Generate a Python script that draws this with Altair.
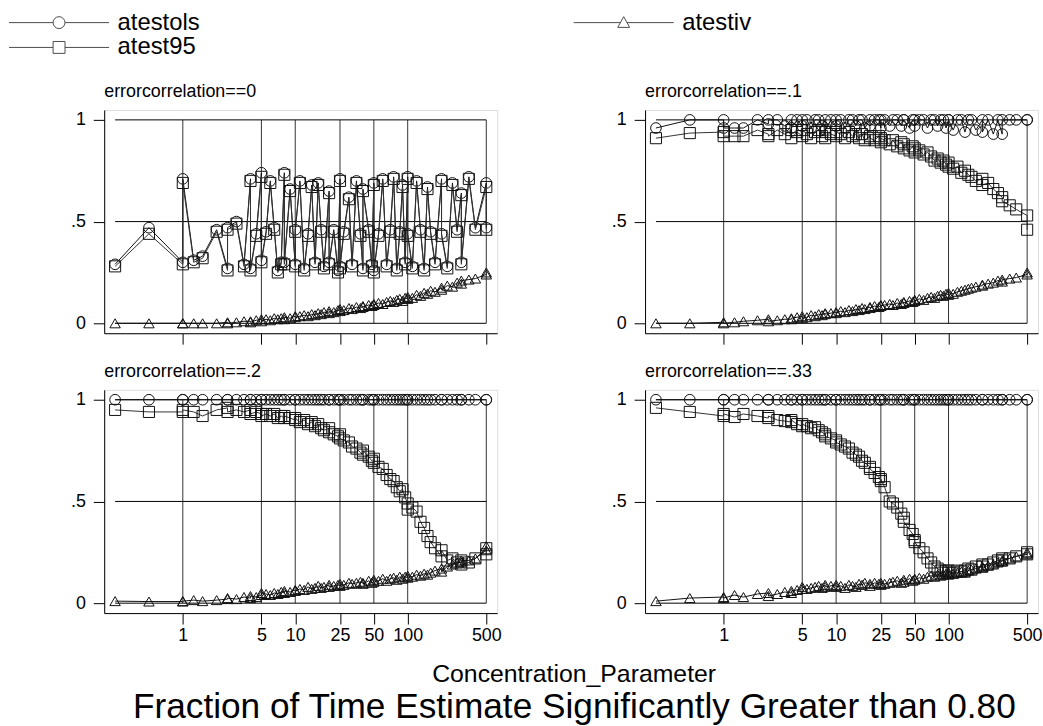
import altair as alt
import pandas as pd

# ---------------- data ----------------
X = [0.25, 0.5, 1, 1, 1.25, 1.5, 2, 2.5, 2.5, 3,
     3.5, 4, 4, 4.5, 5, 5, 5.5, 6, 6.5, 7,
     7.5, 8, 8, 9, 10, 10, 11, 12, 13, 14,
     15, 16, 17, 18, 20, 20, 22, 24, 25, 25,
     27, 30, 32, 35, 38, 40, 40, 45, 48, 50,
     50, 55, 60, 65, 70, 75, 80, 85, 90, 95,
     100, 100, 110, 120, 130, 140, 150, 160, 175, 200,
     200, 225, 250, 275, 300, 300, 350, 400, 500, 500]

PANEL_TITLES = ["errorcorrelation==0", "errorcorrelation==.1",
                "errorcorrelation==.2", "errorcorrelation==.33"]
SERIES = ["atestols", "atest95", "atestiv"]
XTICKS = [1, 5, 10, 25, 50, 100, 500]
YTICKS = [0, 0.5, 1]

# errorcorrelation==0
OLS_0 = [0.29, 0.47, 0.30, 0.71, 0.31, 0.33, 0.46, 0.27, 0.47, 0.50,
         0.29, 0.71, 0.27, 0.44, 0.74, 0.31, 0.45, 0.70, 0.47, 0.26,
         0.30, 0.74, 0.30, 0.66, 0.29, 0.46, 0.70, 0.27, 0.44, 0.68,
         0.30, 0.69, 0.46, 0.28, 0.65, 0.30, 0.46, 0.26, 0.71, 0.28,
         0.45, 0.62, 0.29, 0.70, 0.44, 0.27, 0.66, 0.46, 0.29, 0.69,
         0.26, 0.44, 0.71, 0.29, 0.46, 0.72, 0.27, 0.45, 0.68, 0.30,
         0.72, 0.44, 0.28, 0.70, 0.46, 0.27, 0.67, 0.45, 0.30, 0.71,
         0.44, 0.28, 0.69, 0.46, 0.64, 0.30, 0.72, 0.47, 0.69, 0.47]
B95_0 = [0.28, 0.44, 0.29, 0.69, 0.30, 0.32, 0.45, 0.26, 0.46, 0.49,
         0.28, 0.70, 0.26, 0.43, 0.72, 0.30, 0.44, 0.69, 0.46, 0.25,
         0.29, 0.73, 0.29, 0.65, 0.28, 0.45, 0.69, 0.26, 0.43, 0.67,
         0.29, 0.68, 0.45, 0.27, 0.64, 0.29, 0.45, 0.25, 0.70, 0.27,
         0.44, 0.61, 0.28, 0.69, 0.43, 0.26, 0.65, 0.45, 0.28, 0.68,
         0.25, 0.43, 0.70, 0.28, 0.45, 0.71, 0.26, 0.44, 0.67, 0.29,
         0.71, 0.43, 0.27, 0.69, 0.45, 0.26, 0.66, 0.44, 0.29, 0.70,
         0.43, 0.27, 0.68, 0.45, 0.63, 0.29, 0.71, 0.46, 0.67, 0.46]
IV_0 = [0.0, 0.0, 0.0, 0.0, 0.0, 0.0, 0.0, 0.005, 0.0, 0.005,
        0.01, 0.01, 0.005, 0.015, 0.02, 0.01, 0.02, 0.015, 0.025, 0.02,
        0.025, 0.02, 0.03, 0.025, 0.035, 0.03, 0.035, 0.04, 0.035, 0.045,
        0.04, 0.05, 0.045, 0.055, 0.05, 0.06, 0.055, 0.065, 0.06, 0.07,
        0.065, 0.075, 0.07, 0.08, 0.075, 0.085, 0.08, 0.09, 0.085, 0.095,
        0.09, 0.10, 0.095, 0.105, 0.11, 0.105, 0.115, 0.12, 0.11, 0.125,
        0.12, 0.13, 0.125, 0.14, 0.135, 0.15, 0.145, 0.16, 0.155, 0.175,
        0.165, 0.185, 0.18, 0.20, 0.195, 0.21, 0.215, 0.22, 0.24, 0.25]

# errorcorrelation==.1
OLS_1 = [0.96, 1.0, 1.0, 0.96, 0.96, 0.96, 1.0, 0.98, 1.0, 1.0,
         0.97, 1.0, 0.96, 1.0, 0.97, 1.0, 1.0, 0.96, 1.0, 1.0,
         0.97, 1.0, 0.95, 1.0, 0.97, 1.0, 1.0, 0.96, 1.0, 1.0,
         0.97, 1.0, 1.0, 0.96, 1.0, 0.97, 1.0, 1.0, 0.96, 1.0,
         1.0, 0.97, 1.0, 1.0, 0.97, 1.0, 1.0, 0.96, 1.0, 1.0,
         0.97, 1.0, 1.0, 0.96, 1.0, 1.0, 0.97, 1.0, 1.0, 0.96,
         1.0, 1.0, 0.95, 1.0, 1.0, 0.94, 1.0, 1.0, 0.95, 1.0,
         0.94, 1.0, 0.93, 1.0, 0.93, 1.0, 1.0, 1.0, 1.0, 1.0]
B95_1 = [0.91, 0.935, 0.94, 0.92, 0.92, 0.92, 0.95, 0.93, 0.92, 0.95,
         0.93, 0.95, 0.91, 0.94, 0.92, 0.95, 0.93, 0.91, 0.94, 0.95,
         0.92, 0.94, 0.91, 0.93, 0.92, 0.94, 0.93, 0.91, 0.94, 0.92,
         0.93, 0.91, 0.93, 0.90, 0.92, 0.91, 0.90, 0.92, 0.89, 0.91,
         0.90, 0.88, 0.90, 0.87, 0.89, 0.86, 0.88, 0.85, 0.87, 0.84,
         0.86, 0.85, 0.83, 0.84, 0.82, 0.80, 0.81, 0.79, 0.80, 0.78,
         0.79, 0.77, 0.76, 0.77, 0.74, 0.75, 0.73, 0.72, 0.70, 0.71,
         0.68, 0.69, 0.66, 0.64, 0.62, 0.60, 0.58, 0.56, 0.53, 0.46]
IV_1 = [0.0, 0.0, 0.005, 0.0, 0.005, 0.01, 0.015, 0.02, 0.01, 0.015,
        0.02, 0.02, 0.025, 0.03, 0.035, 0.025, 0.03, 0.04, 0.035, 0.045,
        0.04, 0.05, 0.045, 0.05, 0.055, 0.05, 0.06, 0.055, 0.065, 0.06,
        0.07, 0.065, 0.075, 0.07, 0.08, 0.075, 0.085, 0.08, 0.09, 0.085,
        0.09, 0.095, 0.09, 0.10, 0.095, 0.105, 0.10, 0.11, 0.105, 0.115,
        0.11, 0.12, 0.115, 0.125, 0.13, 0.125, 0.135, 0.14, 0.135, 0.145,
        0.14, 0.15, 0.145, 0.155, 0.16, 0.165, 0.17, 0.175, 0.18, 0.185,
        0.19, 0.195, 0.20, 0.21, 0.205, 0.215, 0.22, 0.225, 0.24, 0.25]

# errorcorrelation==.2
OLS_2 = [1, 1, 1, 1, 1, 1, 1, 1, 1, 1,
         1, 1, 1, 1, 1, 1, 1, 1, 1, 1,
         1, 1, 1, 1, 1, 1, 1, 1, 1, 1,
         1, 1, 1, 1, 1, 1, 1, 1, 1, 1,
         1, 1, 1, 1, 1, 1, 1, 1, 1, 1,
         1, 1, 1, 1, 1, 1, 1, 1, 1, 1,
         1, 1, 1, 1, 1, 1, 1, 1, 1, 1,
         1, 1, 1, 1, 1, 1, 1, 1, 1, 1]
B95_2 = [0.95, 0.94, 0.94, 0.95, 0.94, 0.92, 0.95, 0.96, 0.94, 0.95,
         0.94, 0.95, 0.93, 0.94, 0.93, 0.92, 0.93, 0.92, 0.93, 0.91,
         0.92, 0.91, 0.92, 0.91, 0.90, 0.91, 0.89, 0.90, 0.88, 0.89,
         0.87, 0.88, 0.86, 0.85, 0.86, 0.84, 0.83, 0.82, 0.83, 0.81,
         0.80, 0.79, 0.77, 0.76, 0.74, 0.73, 0.75, 0.72, 0.70, 0.71,
         0.69, 0.67, 0.66, 0.63, 0.61, 0.60, 0.57, 0.55, 0.56, 0.52,
         0.49, 0.46, 0.47, 0.45, 0.40, 0.37, 0.33, 0.30, 0.27, 0.23,
         0.26, 0.21, 0.22, 0.20, 0.21, 0.19, 0.20, 0.22, 0.27, 0.24]
IV_2 = [0.01, 0.008, 0.008, 0.01, 0.015, 0.01, 0.015, 0.02, 0.025, 0.02,
        0.03, 0.025, 0.035, 0.03, 0.04, 0.05, 0.045, 0.04, 0.05, 0.045,
        0.055, 0.05, 0.06, 0.055, 0.065, 0.06, 0.07, 0.065, 0.08, 0.07,
        0.075, 0.085, 0.075, 0.08, 0.09, 0.08, 0.085, 0.09, 0.085, 0.095,
        0.09, 0.10, 0.095, 0.10, 0.105, 0.10, 0.095, 0.11, 0.10, 0.105,
        0.115, 0.11, 0.12, 0.11, 0.12, 0.125, 0.115, 0.13, 0.12, 0.13,
        0.125, 0.135, 0.13, 0.14, 0.135, 0.145, 0.14, 0.15, 0.16, 0.17,
        0.155, 0.18, 0.19, 0.20, 0.20, 0.21, 0.21, 0.22, 0.26, 0.28]

# errorcorrelation==.33
OLS_3 = [1, 1, 1, 1, 1, 1, 1, 1, 1, 1,
         1, 1, 1, 1, 1, 1, 1, 1, 1, 1,
         1, 1, 1, 1, 1, 1, 1, 1, 1, 1,
         1, 1, 1, 1, 1, 1, 1, 1, 1, 1,
         1, 1, 1, 1, 1, 1, 1, 1, 1, 1,
         1, 1, 1, 1, 1, 1, 1, 1, 1, 1,
         1, 1, 1, 1, 1, 1, 1, 1, 1, 1,
         1, 1, 1, 1, 1, 1, 1, 1, 1, 1]
B95_3 = [0.96, 0.94, 0.92, 0.93, 0.915, 0.93, 0.92, 0.91, 0.92, 0.90,
         0.895, 0.89, 0.90, 0.88, 0.87, 0.88, 0.87, 0.86, 0.865, 0.85,
         0.84, 0.83, 0.82, 0.81, 0.80, 0.79, 0.78, 0.77, 0.76, 0.74,
         0.73, 0.72, 0.70, 0.69, 0.67, 0.66, 0.64, 0.62, 0.60, 0.61,
         0.57, 0.50, 0.49, 0.47, 0.44, 0.42, 0.40, 0.36, 0.34, 0.31,
         0.30, 0.27, 0.25, 0.22, 0.20, 0.18, 0.17, 0.16, 0.15, 0.16,
         0.15, 0.16, 0.15, 0.16, 0.155, 0.16, 0.17, 0.165, 0.18, 0.18,
         0.19, 0.19, 0.20, 0.21, 0.21, 0.22, 0.22, 0.23, 0.25, 0.24]
IV_3 = [0.01, 0.025, 0.03, 0.025, 0.04, 0.03, 0.045, 0.05, 0.035, 0.045,
        0.055, 0.05, 0.06, 0.065, 0.07, 0.08, 0.07, 0.075, 0.08, 0.085,
        0.075, 0.09, 0.08, 0.085, 0.09, 0.08, 0.085, 0.075, 0.09, 0.085,
        0.08, 0.095, 0.09, 0.10, 0.095, 0.085, 0.10, 0.095, 0.09, 0.10,
        0.095, 0.10, 0.105, 0.11, 0.10, 0.115, 0.105, 0.12, 0.11, 0.12,
        0.115, 0.125, 0.12, 0.13, 0.135, 0.13, 0.14, 0.135, 0.14, 0.145,
        0.14, 0.15, 0.145, 0.15, 0.155, 0.15, 0.16, 0.165, 0.17, 0.18,
        0.175, 0.185, 0.19, 0.20, 0.205, 0.21, 0.22, 0.23, 0.24, 0.25]

PANEL_DATA = [(OLS_0, B95_0, IV_0), (OLS_1, B95_1, IV_1),
              (OLS_2, B95_2, IV_2), (OLS_3, B95_3, IV_3)]

# ---------------- styling ----------------
FONT = "Liberation Sans"
W, H = 396, 225
XDOM = [0.2, 625]
YDOM = [-0.0488, 1.0488]
INK = "#111111"

SHAPES = {"atestols": "circle", "atest95": "square", "atestiv": "triangle-up"}
SIZES = {"atestols": 115, "atest95": 125, "atestiv": 110}
LINE_COLORS = {"atestols": "#111111", "atest95": "#333333", "atestiv": "#111111"}

# legend symbols: a long line with the marker in its middle (Stata style)
LEGEND_PATHS = [
    "M-8.4,0L-1,0M1,0L8.4,0M1,0A1,1,0,1,1,-1,0A1,1,0,1,1,1,0",
    "M-8.4,0L-1,0M1,0L8.4,0M-1,-1L1,-1L1,1L-1,1Z",
    "M-8.4,0L-0.55,0M0.55,0L8.4,0M0,-1L1,0.8L-1,0.8Z",
]


def panel_frame(ols, b95, iv):
    rows = []
    for name, ys in zip(SERIES, (ols, b95, iv)):
        for i, (xv, yv) in enumerate(zip(X, ys)):
            rows.append({"x": xv, "y": yv, "series": name, "idx": i})
    return pd.DataFrame(rows)


def make_panel(k, bottom):
    df = panel_frame(*PANEL_DATA[k])
    xscale = alt.Scale(type="log", domain=XDOM, nice=False)
    yscale = alt.Scale(domain=YDOM, nice=False, zero=False)
    xaxis = alt.Axis(values=XTICKS, format="d", grid=False, tickSize=11,
                     labels=bottom, labelFontSize=18, labelPadding=3,
                     labelFont=FONT, labelColor="black", labelFlush=False,
                     labelOverlap=False, title=None, domainColor="black",
                     tickColor="black", domainWidth=1, tickWidth=1)
    yaxis = alt.Axis(values=YTICKS,
                     labelExpr="datum.value == 0 ? '0' : (datum.value == 1 ? '1' : '.5')",
                     grid=False, tickSize=11, labelFontSize=18, labelPadding=8,
                     labelFont=FONT, labelColor="black", title=None,
                     domainColor="black", tickColor="black", domainWidth=1,
                     tickWidth=1)
    X_ENC = alt.X("x:Q", scale=xscale, axis=xaxis)
    Y_ENC = alt.Y("y:Q", scale=yscale, axis=yaxis)

    vgrid = alt.Chart(pd.DataFrame({"x": XTICKS})).mark_rule(
        color="#333333", strokeWidth=1).encode(
        x=X_ENC, y=alt.datum(0), y2=alt.datum(1))
    hgrid = alt.Chart(pd.DataFrame({"y": YTICKS})).mark_rule(
        color="black", strokeWidth=1).encode(
        y=Y_ENC, x=alt.datum(0.25), x2=alt.datum(500))

    layers = [vgrid, hgrid]
    base = alt.Chart(df)
    for name in SERIES:
        sub = base.transform_filter(alt.datum.series == name)
        layers.append(sub.mark_line(color=LINE_COLORS[name], strokeWidth=1).encode(
            x=X_ENC, y=Y_ENC, order=alt.Order("idx:Q")))
        layers.append(sub.mark_point(shape=SHAPES[name], filled=False,
                                     size=SIZES[name], color=INK,
                                     strokeWidth=1, opacity=1).encode(
            x=X_ENC, y=Y_ENC))
    if k == 0:
        legend_layer = base.transform_filter("false").mark_point(
            filled=False, color="black").encode(
            x=X_ENC, y=Y_ENC,
            shape=alt.Shape("series:N",
                            scale=alt.Scale(domain=SERIES, range=LEGEND_PATHS),
                            legend=alt.Legend(
                                title=None, orient="none", legendX=-96, legendY=-100,
                                columns=2, columnPadding=374, rowPadding=1,
                                symbolSize=144, symbolOffset=38.5, labelOffset=47,
                                labelFontSize=24, labelFont=FONT, labelColor="black",
                                symbolStrokeColor="black", symbolStrokeWidth=1,
                                symbolFillColor="transparent", labelLimit=400)))
        layers.append(legend_layer)

    return alt.layer(*layers).properties(
        width=W, height=H,
        title=alt.TitleParams(PANEL_TITLES[k], anchor="start", frame="group",
                              fontSize=18, font=FONT, fontWeight="normal",
                              baseline="alphabetic", offset=-5, color="black"))


panels = [make_panel(0, False), make_panel(1, False),
          make_panel(2, True), make_panel(3, True)]

grid = alt.concat(*panels, columns=2, spacing={"row": 17, "column": 109},
                  align="each",
                  title=alt.TitleParams("Concentration_Parameter", orient="bottom",
                                        anchor="middle", fontSize=25, font=FONT,
                                        fontWeight="normal", color="black",
                                        baseline="alphabetic", offset=37, dx=18))

chart = alt.vconcat(grid, title=alt.TitleParams(
    "Fraction of Time Estimate Significantly Greater than 0.80",
    orient="bottom", anchor="middle", fontSize=35.5, font=FONT,
    fontWeight="normal", color="black", baseline="alphabetic", offset=31, dx=49)
).properties(
    padding={"left": 9, "top": 8, "right": 0, "bottom": 0},
    background="white",
).configure_view(stroke=None).configure(font=FONT)

chart.save("out.html", embed_options={"renderer": "svg", "actions": False})
